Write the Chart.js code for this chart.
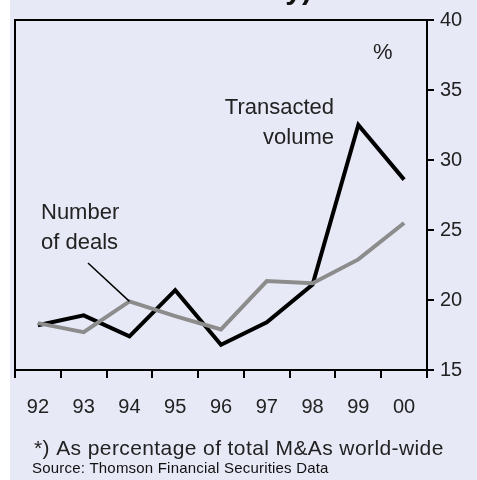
<!DOCTYPE html>
<html>
<head>
<meta charset="utf-8">
<script src="https://cdn.jsdelivr.net/npm/chart.js@4"></script>
<style>
  html, body { margin: 0; padding: 0; background: #fff; }
  canvas { display: block; }
</style>
</head>
<body>
<canvas id="chart" width="477" height="480"></canvas>
<script>
const years = ['92', '93', '94', '95', '96', '97', '98', '99', '00'];
const volume = [18.2, 18.9, 17.4, 20.7, 16.8, 18.4, 21.1, 32.5, 28.6];
const deals = [18.35, 17.7, 19.9, 18.85, 17.9, 21.35, 21.2, 22.9, 25.5];
const yTicks = [15, 20, 25, 30, 35, 40];

const bg = 'rgb(231, 233, 246)';
const ink = '#222';
const font = '"Liberation Sans", Arial, sans-serif';

// background, frame and the free text around the chart
const decor = {
    id: 'decor',
    beforeDraw(chart) {
        const ctx = chart.ctx;
        ctx.save();
        ctx.fillStyle = '#fff';
        ctx.fillRect(0, 0, chart.width, chart.height);
        ctx.fillStyle = bg;
        ctx.fillRect(10, 0, chart.width - 10, chart.height);
        ctx.restore();
    },
    afterDraw(chart) {
        const ctx = chart.ctx;
        const a = chart.chartArea;
        const x = chart.scales.x, y = chart.scales.y;
        ctx.save();
        ctx.strokeStyle = '#000';
        ctx.lineWidth = 2;
        ctx.beginPath();
        ctx.moveTo(a.left, a.bottom);
        ctx.lineTo(a.left, a.top);
        ctx.lineTo(a.right, a.top);
        ctx.stroke();

        // title, mostly cut off by the top edge
        ctx.fillStyle = '#111';
        ctx.font = 'bold 30px ' + font;
        ctx.textBaseline = 'alphabetic';
        ctx.textAlign = 'right';
        ctx.fillText('Financial industry)', 312, -1);

        ctx.fillStyle = ink;
        ctx.font = '22px ' + font;
        ctx.textBaseline = 'middle';
        ctx.textAlign = 'left';
        ctx.fillText('%', 373, 53);
        ctx.textAlign = 'right';
        ctx.fillText('Transacted', 334, 108);
        ctx.fillText('volume', 334, 138);
        ctx.textAlign = 'left';
        ctx.fillText('Number', 41, 213);
        ctx.fillText('of deals', 41, 243);

        // leader line to the deals series
        ctx.strokeStyle = '#000';
        ctx.lineWidth = 1.5;
        ctx.beginPath();
        ctx.moveTo(88, 263);
        ctx.lineTo(x.getPixelForValue(2), y.getPixelForValue(deals[2]));
        ctx.stroke();

        ctx.textBaseline = 'alphabetic';
        ctx.font = '21px ' + font;
        ctx.letterSpacing = '0.4px';
        ctx.fillText('*) As percentage of total M&As world-wide', 34, 455);
        ctx.fillStyle = '#111';
        ctx.font = '15px ' + font;
        ctx.letterSpacing = '0.2px';
        ctx.fillText('Source: Thomson Financial Securities Data', 32, 473);
        ctx.restore();
    }
};

new Chart(document.getElementById('chart'), {
    type: 'line',
    data: {
        labels: years,
        datasets: [{
            label: 'Number of deals',
            data: deals,
            borderColor: 'rgb(140, 140, 140)',
            borderWidth: 4,
            pointRadius: 0,
            tension: 0,
            fill: false
        }, {
            label: 'Transacted volume',
            data: volume,
            borderColor: '#000',
            borderWidth: 4,
            pointRadius: 0,
            tension: 0,
            fill: false
        }]
    },
    options: {
        responsive: false,
        animation: false,
        layout: { padding: { left: 15, top: 20, right: 0, bottom: 0 } },
        plugins: {
            legend: { display: false },
            tooltip: { enabled: false }
        },
        scales: {
            x: {
                offset: true,
                grid: {
                    offset: true,
                    drawOnChartArea: false,
                    tickLength: 8,
                    color: '#000',
                    lineWidth: 2
                },
                border: { color: '#000', width: 2 },
                ticks: {
                    color: ink,
                    font: { family: font, size: 20 },
                    padding: 17,
                    maxRotation: 0
                },
                afterFit(s) { s.height = 110; }
            },
            y: {
                position: 'right',
                min: 15,
                max: 40,
                afterBuildTicks(s) { s.ticks = yTicks.map(v => ({ value: v })); },
                grid: {
                    drawOnChartArea: false,
                    tickLength: 7,
                    color: '#000',
                    lineWidth: 2
                },
                border: { color: '#000', width: 2 },
                ticks: {
                    color: ink,
                    font: { family: font, size: 20 },
                    padding: 6
                },
                afterFit(s) { s.width = 50; }
            }
        }
    },
    plugins: [decor]
});
</script>
</body>
</html>
